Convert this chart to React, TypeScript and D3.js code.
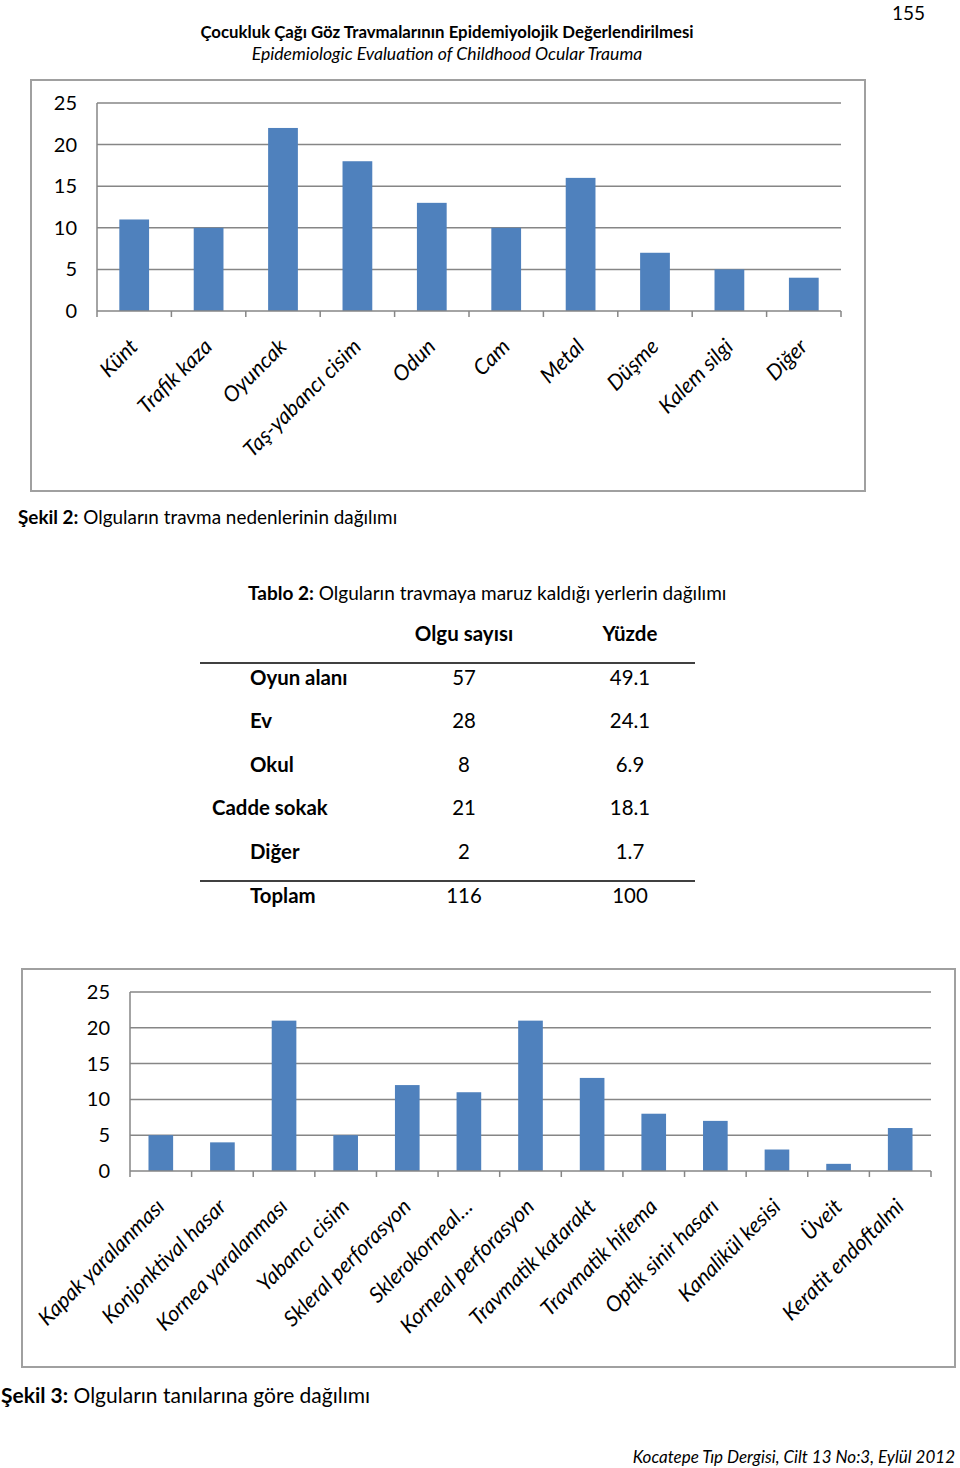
import React from "react";
import * as d3 from "d3";

const causes = ["Künt", "Trafik kaza", "Oyuncak", "Taş-yabancı cisim", "Odun", "Cam", "Metal", "Düşme", "Kalem silgi", "Diğer"];
const causeCounts = [11, 10, 22, 18, 13, 10, 16, 7, 5, 4];

const diagnoses = ["Kapak yaralanması", "Konjonktival hasar", "Kornea yaralanması", "Yabancı cisim", "Skleral perforasyon", "Sklerokorneal…", "Korneal perforasyon", "Travmatik katarakt", "Travmatik hifema", "Optik sinir hasarı", "Kanalikül kesisi", "Üveit", "Keratit endoftalmi"];
const diagnosisCounts = [5, 4, 21, 5, 12, 11, 21, 13, 8, 7, 3, 1, 6];

const yTicks = [0, 5, 10, 15, 20, 25];

const tablePlaces = ["Oyun alanı", "Ev", "Okul", "Cadde sokak", "Diğer"];
const tableCounts = ["57", "28", "8", "21", "2"];
const tablePercents = ["49.1", "24.1", "6.9", "18.1", "1.7"];
const tableTotal = ["Toplam", "116", "100"];

const FONT = "Lato, 'Open Sans', sans-serif";
const BAR = "#4f81bd";
const GRID = "#868686";

type ChartProps = {
  frame: [number, number, number, number];
  x0: number; x1: number; yTop: number; yBottom: number;
  cats: string[]; vals: number[];
  labelOffset: number; fontSize: number; labelSize: number; tickLabelX: number;
};

function BarChart({ frame, x0, x1, yTop, yBottom, cats, vals, labelOffset, fontSize, labelSize, tickLabelX }: ChartProps) {
  const x = d3.scaleBand<string>().domain(cats).range([x0, x1]).paddingInner(0.6).paddingOuter(0.3);
  const band = d3.scaleBand<string>().domain(cats).range([x0, x1]);
  const y = d3.scaleLinear().domain([0, 25]).range([yBottom, yTop]);
  const boundaries = cats.map((c) => band(c)!).concat([x1]);
  return (
    <g>
      <rect x={frame[0]} y={frame[1]} width={frame[2]} height={frame[3]} fill="#fff" stroke="#a0a0a0" strokeWidth={2} />
      {yTicks.map((t) => (
        <g key={t}>
          {t > 0 && <line x1={x0} x2={x1} y1={y(t)} y2={y(t)} stroke={GRID} strokeWidth={1.5} />}
          <text x={tickLabelX} y={y(t)} dy="0.35em" textAnchor="end" fontFamily={FONT} fontSize={fontSize} fill="#000">{t}</text>
        </g>
      ))}
      {cats.map((c, i) => (
        <rect key={c} x={x(c)!} y={y(vals[i])} width={x.bandwidth()} height={y(0) - y(vals[i])} fill={BAR} />
      ))}
      <line x1={x0} x2={x0} y1={yTop} y2={yBottom} stroke={GRID} strokeWidth={1.5} />
      <line x1={x0} x2={x1} y1={yBottom} y2={yBottom} stroke={GRID} strokeWidth={1.5} />
      {boundaries.map((b, i) => (
        <line key={i} x1={b} x2={b} y1={yBottom} y2={yBottom + 6} stroke={GRID} strokeWidth={1.5} />
      ))}
      {cats.map((c) => {
        const cx = band(c)! + band.bandwidth() / 2 + 5;
        const cy = yBottom + labelOffset;
        return (
          <text key={c} transform={`translate(${cx},${cy}) rotate(-45)`} textAnchor="end" fontFamily={FONT} fontStyle="italic" fontSize={labelSize} fill="#000">{c}</text>
        );
      })}
    </g>
  );
}

export default function App() {
  const rowYs = [678, 721, 765, 808, 852];
  return (
    <svg width={960} height={1468} style={{ position: "absolute", left: 0, top: 0, background: "#fff" }}>
      <rect width={960} height={1468} fill="#fff" />
      <text x={925} y={20} textAnchor="end" fontFamily={FONT} fontSize={19}>155</text>
      <text x={447} y={38} textAnchor="middle" fontFamily={FONT} fontWeight="bold" fontSize={16.8}>Çocukluk Çağı Göz Travmalarının Epidemiyolojik Değerlendirilmesi</text>
      <text x={447} y={60} textAnchor="middle" fontFamily={FONT} fontStyle="italic" fontSize={17.6}>Epidemiologic Evaluation of Childhood Ocular Trauma</text>

      <BarChart frame={[31, 80, 834, 411]} x0={97} x1={841} yTop={103} yBottom={311}
        cats={causes} vals={causeCounts} labelOffset={37} fontSize={20} labelSize={21.5} tickLabelX={77} />

      <text x={18} y={524} fontFamily={FONT} fontSize={18.9}><tspan fontWeight="bold">Şekil 2:</tspan> Olguların travma nedenlerinin dağılımı</text>

      <text x={248} y={600} fontFamily={FONT} fontSize={19}><tspan fontWeight="bold">Tablo 2:</tspan> Olguların travmaya maruz kaldığı yerlerin dağılımı</text>
      <text x={464} y={641} textAnchor="middle" fontFamily={FONT} fontWeight="bold" fontSize={20.5}>Olgu sayısı</text>
      <text x={630} y={641} textAnchor="middle" fontFamily={FONT} fontWeight="bold" fontSize={20.5}>Yüzde</text>
      <line x1={200} x2={695} y1={663} y2={663} stroke="#000" strokeWidth={1.5} />
      {tablePlaces.map((p, i) => (
        <g key={p}>
          <text x={p === "Cadde sokak" ? 212 : 250} y={rowYs[i] + 7} fontFamily={FONT} fontWeight="bold" fontSize={20.4}>{p}</text>
          <text x={464} y={rowYs[i] + 7} textAnchor="middle" fontFamily={FONT} fontSize={20.4}>{tableCounts[i]}</text>
          <text x={630} y={rowYs[i] + 7} textAnchor="middle" fontFamily={FONT} fontSize={20.4}>{tablePercents[i]}</text>
        </g>
      ))}
      <line x1={200} x2={695} y1={881} y2={881} stroke="#000" strokeWidth={1.5} />
      <text x={250} y={903} fontFamily={FONT} fontWeight="bold" fontSize={20.4}>{tableTotal[0]}</text>
      <text x={464} y={903} textAnchor="middle" fontFamily={FONT} fontSize={20.4}>{tableTotal[1]}</text>
      <text x={630} y={903} textAnchor="middle" fontFamily={FONT} fontSize={20.4}>{tableTotal[2]}</text>

      <BarChart frame={[22, 969, 933, 398]} x0={130} x1={931} yTop={992} yBottom={1171}
        cats={diagnoses} vals={diagnosisCounts} labelOffset={37} fontSize={20} labelSize={21.5} tickLabelX={110} />

      <text x={1} y={1403} fontFamily={FONT} fontSize={21}><tspan fontWeight="bold">Şekil 3:</tspan> Olguların tanılarına göre dağılımı</text>
      <text x={955} y={1463} textAnchor="end" fontFamily={FONT} fontStyle="italic" fontSize={17}>Kocatepe Tıp Dergisi, Cilt 13 No:3, Eylül 2012</text>
    </svg>
  );
}
